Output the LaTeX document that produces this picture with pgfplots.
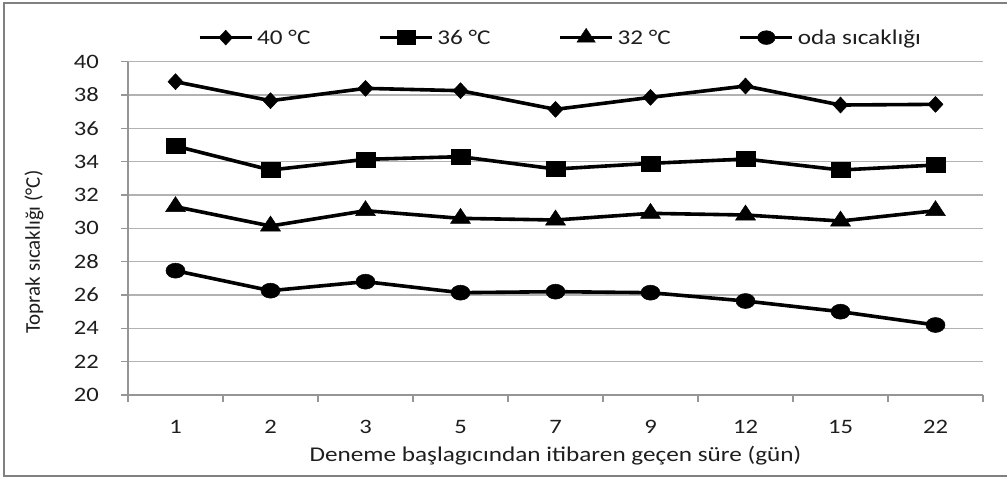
\documentclass[border=0pt]{standalone}
\usepackage{fontspec}
\setmainfont{Carlito}[FakeStretch=1.2]
\newfontfamily\ylabfont{Carlito}
\usepackage{pgfplots}
\pgfplotsset{compat=1.18}
\definecolor{gridc}{RGB}{178,178,178}
\definecolor{axisc}{RGB}{150,150,150}
\definecolor{borderc}{RGB}{128,128,128}
\definecolor{txt}{RGB}{30,30,30}
\begin{document}
\begin{tikzpicture}[x=1pt,y=1pt]
\useasboundingbox (0,0) rectangle (1007,478);
\draw[borderc, line width=2.2pt] (1012,475) -- (4,475) -- (4,2) -- (1012,2);
\begin{axis}[
  at={(128pt,83pt)}, anchor=south west,
  scale only axis, width=855pt, height=333.3pt,
  xmin=-0.5, xmax=8.5, ymin=20, ymax=40,
  xtick={0,...,8}, xticklabels={1,2,3,5,7,9,12,15,22},
  minor xtick={-0.5,0.5,...,8.5},
  ytick={20,22,...,40},
  axis lines*=left,
  axis line style={axisc, line width=1.3pt},
  tick align=outside,
  major x tick style={draw=none},
  minor x tick style={axisc, line width=1.2pt},
  y tick style={axisc, line width=1.2pt},
  major tick length=7pt, minor tick length=7pt,
  ymajorgrids, grid style={gridc, line width=1.3pt},
  /pgf/number format/assume math mode=true,
  tick label style={font=\fontsize{20.5}{24}\selectfont, text=txt},
  xticklabel style={anchor=base, inner sep=0pt, yshift=-32pt},
  yticklabel style={anchor=east, inner sep=0pt, xshift=-22pt},
  xlabel={Deneme başlagıcından itibaren geçen süre (gün)},
  xlabel style={at={(axis description cs:0.5,-0.2)}, anchor=base, inner sep=0pt, font=\fontsize{21}{25}\selectfont, text=txt},
  ylabel={\ylabfont Toprak sıcaklığı (°C)},
  ylabel style={at={(axis description cs:-0.103,0.429)}, anchor=base, rotate=0, inner sep=0pt, font=\fontsize{21}{25}\selectfont, text=txt},
  legend columns=4,
  legend style={at={(axis description cs:0.0819,1.074)}, anchor=west, draw=none, fill=none, inner sep=0pt,
    font=\fontsize{21}{25}\selectfont, text=txt,
    nodes={inner sep=0pt},
    /tikz/every odd column/.append style={column sep=4pt},
    /tikz/every even column/.append style={column sep=68pt}},
  legend image code/.code={\draw[mark repeat=2,mark phase=2,#1,line width=3pt, every mark/.append style={scale=0.92}] plot coordinates {(0pt,0pt) (26pt,0pt) (52pt,0pt)};},
  clip=false,
]
\addplot[black, line width=3.6pt, mark=diamond*, mark size=8pt, mark options={xscale=1.25, solid, line width=0.5pt}]
  coordinates {(0,38.8) (1,37.66) (2,38.4) (3,38.26) (4,37.14) (5,37.86) (6,38.54) (7,37.4) (8,37.44)};
\addlegendentry{40 °C}
\addplot[black, line width=3.6pt, mark=square*, mark size=7.5pt, mark options={xscale=1.3, solid, line width=0.5pt}]
  coordinates {(0,34.94) (1,33.5) (2,34.14) (3,34.3) (4,33.56) (5,33.9) (6,34.16) (7,33.5) (8,33.8)};
\addlegendentry{36 °C}
\addplot[black, line width=3.6pt, mark=triangle*, mark size=10pt, mark options={xscale=1.15, solid, line width=0.5pt}]
  coordinates {(0,31.3) (1,30.14) (2,31.06) (3,30.6) (4,30.5) (5,30.9) (6,30.8) (7,30.44) (8,31.06)};
\addlegendentry{32 °C}
\addplot[black, line width=3.6pt, mark=*, mark size=7.5pt, mark options={xscale=1.27, solid, line width=0.5pt}]
  coordinates {(0,27.46) (1,26.26) (2,26.8) (3,26.14) (4,26.2) (5,26.14) (6,25.64) (7,25.0) (8,24.2)};
\addlegendentry{oda sıcaklığı}
\end{axis}
\end{tikzpicture}
\end{document}
